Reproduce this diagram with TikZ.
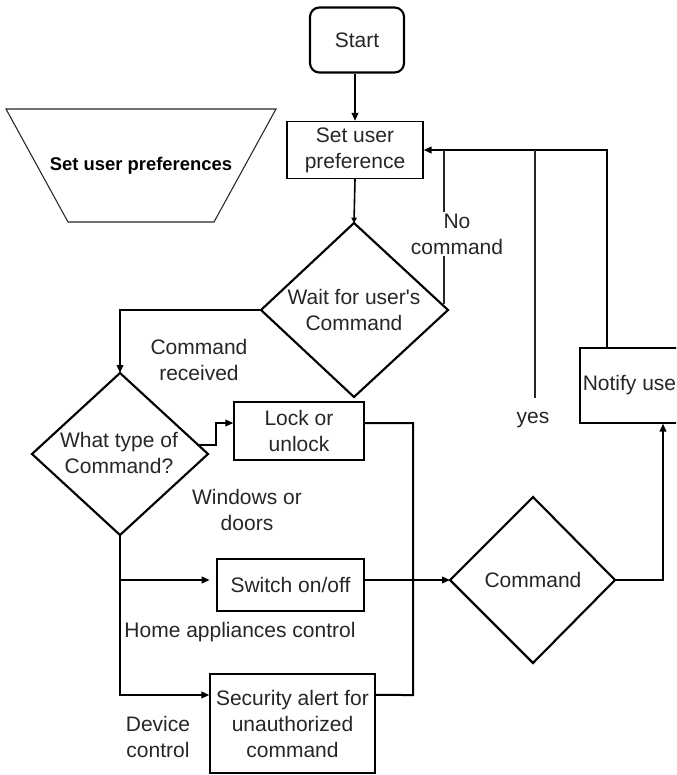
\documentclass[tikz,border=0pt]{standalone}
\usepackage{fontspec}
\setmainfont{Liberation Sans}
\usetikzlibrary{arrows.meta}
\begin{document}
\begin{tikzpicture}[x=0.75pt,y=-0.75pt,
  txt/.style={font=\fontsize{15.75}{19.5}\selectfont, text=black!85, align=center, inner sep=0pt},
  boxnode/.style={txt, draw=black, line width=1pt},
  dia/.style={draw=black, line width=1.6pt, line join=miter},
  conn/.style={draw=black, line width=1.2pt},
  thinline/.style={draw=black!85, line width=0.8pt},
  tip/.style={-{Triangle[length=6pt,width=5pt]}},
  arr/.style={conn, tip},
]
\useasboundingbox (0,0) rectangle (676,775);
\clip (0,0) rectangle (676,775);

% nodes
\node[boxnode, rounded corners=7pt, line width=1.6pt, minimum width=70.5pt, minimum height=48.75pt] (start) at (357,40) {Start};
\node[boxnode, minimum width=102pt, minimum height=42.75pt] (sup) at (355,150) {Set user\\preference};

\draw[thinline] (6,109) -- (276,109) -- (214,222) -- (68,222) -- cycle;
\node[font=\fontsize{13.8}{16}\selectfont\bfseries, text=black, inner sep=0pt] (pref) at (141,166) {Set user preferences};

% wait diamond
\coordinate (wT) at (354,223);
\coordinate (wR) at (448,310);
\coordinate (wB) at (354,397);
\coordinate (wL) at (261,310);
\draw[dia] (wT) -- (wR) -- (wB) -- (wL) -- cycle;
\node[txt] (wait) at (354,310) {Wait for user\textquotesingle s\\Command};

% what type diamond
\coordinate (qT) at (120,373);
\coordinate (qR) at (208,454);
\coordinate (qB) at (120,535);
\coordinate (qL) at (32,454);
\draw[dia] (qT) -- (qR) -- (qB) -- (qL) -- cycle;
\node[txt] (what) at (119,453) {What type of\\Command?};

% command diamond
\coordinate (cT) at (533,497);
\coordinate (cR) at (615,580);
\coordinate (cB) at (533,663);
\coordinate (cL) at (450,580);
\draw[dia] (cT) -- (cR) -- (cB) -- (cL) -- cycle;
\node[txt] (cmd) at (533,580) {Command};

\node[boxnode, minimum width=97.5pt, minimum height=43.5pt] (lock) at (299,431) {Lock or\\unlock};
\node[boxnode, minimum width=110.25pt, minimum height=39pt] (switch) at (290.5,585) {Switch on/off};
\node[boxnode, minimum width=123.75pt, minimum height=74.25pt] (sec) at (292.5,723.5) {Security alert for\\unauthorized\\command};
\node[boxnode, minimum width=79.5pt, minimum height=56.25pt] (notify) at (633,385.5) {Notify user};

% connectors
\draw[arr] (start.south -| sup.north) -- (sup.north);
\draw[conn, -{Triangle[length=4pt,width=4pt]}] (sup.south) -- (wT);

\coordinate (fbx) at (607,150);
\draw[arr, line width=1.5pt] (fbx |- notify.north) -- (fbx) -- (sup.east);
\coordinate (yesend) at (535,398);
\draw[thinline] (yesend) -- (yesend |- sup.east);
\coordinate (nc) at (444,304);
\draw[thinline] (nc) -- (nc |- sup.east);
\node[txt, fill=white, inner sep=1pt] (nocmd) at (457,234) {No\\command};
\node[txt] (yes) at (533,420) {yes};

\draw[arr, line width=1pt] (wL) -| (qT);
\node[txt] (crec) at (199,360) {Command\\received};

\coordinate (qe) at (198,445);
\draw[arr] (qe) -- ++(18,0) |- ([yshift=6pt]lock.west);
\draw[conn, line width=1.5pt] ([yshift=6pt]lock.east) -| (413,695) -- ([yshift=21.4pt]sec.east);
\node[txt] (win) at (247,510) {Windows or\\doors};

\coordinate (sw) at ([yshift=3.75pt]switch.west);
\coordinate (sc) at ([yshift=21.4pt]sec.west);
\draw[arr, shorten >=5pt] (qB |- sw) -- (sw);
\draw[arr] (qB) |- (sc);
\node[txt] (home) at (240,632) {Home appliances control};
\node[txt] (dev) at (158,737) {Device\\control};

\draw[arr] ([yshift=3.75pt]switch.east) -- (cL);
\draw[arr] (cR) -| ([xshift=22.5pt]notify.south);
\end{tikzpicture}
\end{document}
